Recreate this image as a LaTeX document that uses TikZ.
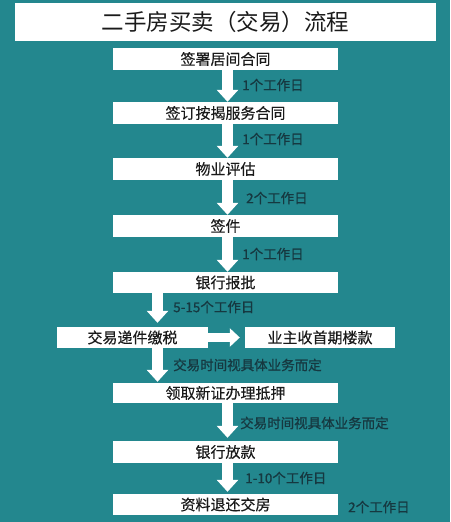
\documentclass[tikz,border=0pt]{standalone}
\usepackage{fontspec}
\setmainfont{Noto Sans CJK SC}
\newfontfamily\boxfont[FakeBold=0.3]{Noto Sans CJK SC}
\newfontfamily\lblfont[FakeBold=0.7]{Noto Sans CJK SC}
\usetikzlibrary{arrows.meta}
\definecolor{bgteal}{HTML}{23878E}
\definecolor{lbldark}{HTML}{163840}
\definecolor{boxtext}{HTML}{1A1A1A}
\tikzset{
  stepbox/.style={fill=white, draw=none, inner sep=0pt, text=boxtext, font=\boxfont\fontsize{15}{15}\selectfont},
  lbl/.style={anchor=west, inner sep=0pt, text=lbldark, font=\lblfont\fontsize{13.5}{13.5}\selectfont},
  downarr/.style={draw=white, line width=11pt, -{Triangle[width=21pt,length=12pt]}},
  rightarr/.style={draw=white, line width=9pt, -{Triangle[width=18pt,length=10pt]}},
}
\begin{document}
\begin{tikzpicture}[x=1pt,y=-1pt]
\useasboundingbox[fill=bgteal] (0,0) rectangle (450,522);
% title
\node[stepbox, minimum width=421pt, minimum height=38pt, font=\fontsize{22.5}{22.5}\selectfont] (title) at (225.5,22) {二手房买卖（交易）流程};
% main boxes
\node[stepbox, minimum width=225pt, minimum height=22pt] (b1) at (225.5,59) {签署居间合同};
\node[stepbox, minimum width=225pt, minimum height=22pt] (b2) at (225.5,113) {签订按揭服务合同};
\node[stepbox, minimum width=225pt, minimum height=22pt] (b3) at (225.5,169) {物业评估};
\node[stepbox, minimum width=225pt, minimum height=22pt] (b4) at (225.5,226) {签件};
\node[stepbox, minimum width=225pt, minimum height=21pt] (b5) at (225.5,282.5) {银行报批};
\node[stepbox, minimum width=151pt, minimum height=21pt] (b6) at (132.5,337.5) {交易递件缴税};
\node[stepbox, minimum width=150pt, minimum height=21pt] (b7) at (320,337.5) {业主收首期楼款};
\node[stepbox, minimum width=225pt, minimum height=20pt] (b8) at (225.5,393) {领取新证办理抵押};
\node[stepbox, minimum width=225pt, minimum height=22pt] (b9) at (225.5,452) {银行放款};
\node[stepbox, minimum width=225pt, minimum height=21pt] (b10) at (225.5,504.5) {资料退还交房};
% arrows
\coordinate (ca) at (227.5,0);
\coordinate (cb) at (157.5,0);
\draw[downarr] (b1.south -| ca) -- (b2.north -| ca);
\draw[downarr] (b2.south -| ca) -- (b3.north -| ca);
\draw[downarr] (b3.south -| ca) -- (b4.north -| ca);
\draw[downarr] (b4.south -| ca) -- (b5.north -| ca);
\draw[downarr, shorten >=4pt] (b5.south -| cb) -- (b6.north -| cb);
\draw[downarr, shorten >=1pt] (b6.south -| cb) -- (b8.north -| cb);
\draw[rightarr, shorten >=5pt] (b6.east) -- (b7.west);
\draw[downarr, shorten >=3pt] (b8.south -| ca) -- (b9.north -| ca);
\draw[downarr, shorten >=2pt] (b9.south -| ca) -- (b10.north -| ca);
% labels
\node[lbl] (l1) at (242,85) {1个工作日};
\node[lbl] (l2) at (242,139) {1个工作日};
\node[lbl] (l3) at (246,198) {2个工作日};
\node[lbl] (l4) at (242,254) {1个工作日};
\node[lbl] (l5) at (173,307) {5-15个工作日};
\node[lbl] (l6) at (173,365) {交易时间视具体业务而定};
\node[lbl] (l7) at (240,423) {交易时间视具体业务而定};
\node[lbl] (l8) at (245,478) {1-10个工作日};
\node[lbl] (l9) at (348,507) {2个工作日};
\end{tikzpicture}
\end{document}
